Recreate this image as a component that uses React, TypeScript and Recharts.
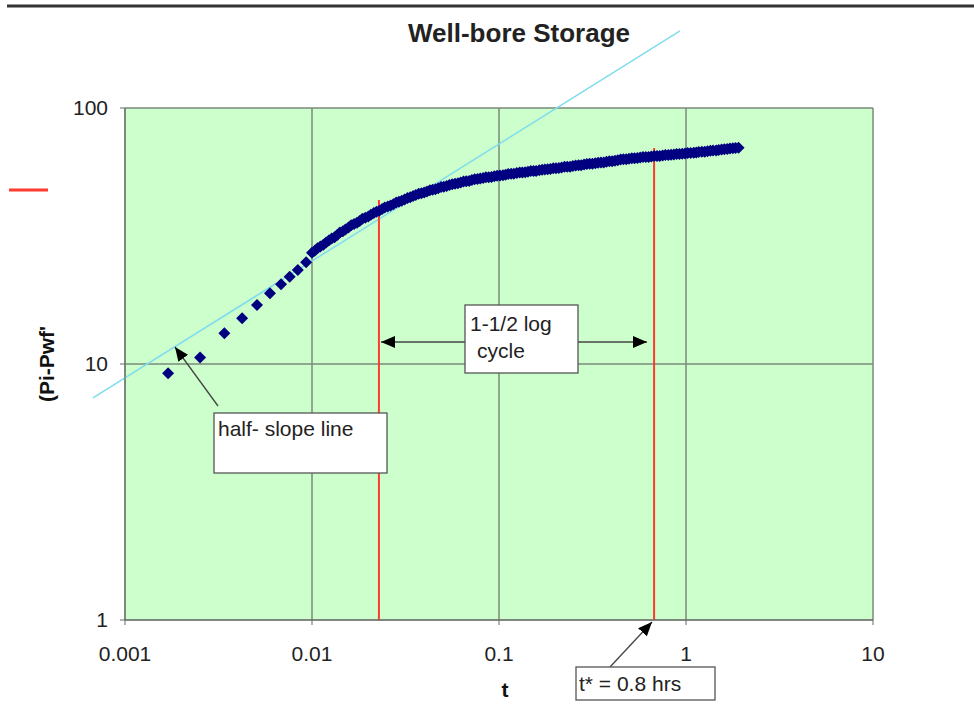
import { ScatterChart, Scatter, XAxis, YAxis, CartesianGrid, ReferenceLine } from 'recharts'

// t (hrs) and Pi-Pwf
const timeHrs = [
  0.0017, 0.00252, 0.0034, 0.00423, 0.00508, 0.00596, 0.00683, 0.0076, 0.0084, 0.0093,
  0.0100, 0.0107, 0.0115, 0.0123, 0.0132, 0.0141, 0.0151, 0.0162, 0.0174, 0.0186,
  0.0200, 0.0214, 0.0229, 0.0245, 0.0263, 0.0282, 0.0302, 0.0324, 0.0347, 0.0372,
  0.0398, 0.0427, 0.0457, 0.0490, 0.0525, 0.0562, 0.0603, 0.0646, 0.0692, 0.0741,
  0.0794, 0.0851, 0.0912, 0.0977, 0.105, 0.112, 0.120, 0.129, 0.138, 0.148,
  0.158, 0.170, 0.182, 0.195, 0.209, 0.224, 0.240, 0.257, 0.275, 0.295,
  0.316, 0.339, 0.363, 0.389, 0.417, 0.447, 0.479, 0.513, 0.550, 0.589,
  0.631, 0.676, 0.724, 0.776, 0.832, 0.891, 0.955, 1.02, 1.10, 1.17,
  1.26, 1.35, 1.45, 1.55, 1.66, 1.78, 1.91,
]

const pressureDrop = [
  9.2, 10.6, 13.2, 15.1, 17.0, 18.9, 20.5, 21.9, 23.3, 25.0,
  27.2, 28.3, 29.2, 30.4, 31.3, 32.6, 33.5, 34.8, 35.6, 36.9,
  37.7, 38.9, 39.7, 40.9, 41.6, 42.7, 43.4, 44.5, 45.3, 46.2,
  46.8, 47.7, 48.2, 49.1, 49.6, 50.4, 50.8, 51.6, 51.9, 52.7,
  53.0, 53.6, 53.8, 54.4, 54.6, 55.2, 55.4, 56.0, 56.1, 56.7,
  56.8, 57.4, 57.6, 58.1, 58.3, 58.9, 59.0, 59.6, 59.8, 60.4,
  60.6, 61.1, 61.3, 61.9, 62.2, 62.9, 63.1, 63.7, 63.8, 64.3,
  64.4, 64.9, 65.0, 65.5, 65.6, 66.1, 66.2, 66.7, 66.8, 67.3,
  67.5, 68.1, 68.3, 68.9, 69.1, 69.7, 70.0,
]

// more readings inside the dense part of the record
const denseTime = [
  0.01035, 0.01109, 0.01189, 0.01274, 0.01365, 0.01462, 0.01567, 0.01679, 0.01799, 0.01928,
  0.02065, 0.02213, 0.02371, 0.02541, 0.02723, 0.02917, 0.03126, 0.0335, 0.03589, 0.03846,
  0.04121, 0.04416, 0.04732, 0.0507, 0.05433, 0.05821, 0.06237, 0.06683, 0.07161, 0.07674,
  0.08222, 0.0881, 0.09441, 0.1012, 0.1084, 0.1161, 0.1245, 0.1334, 0.1429, 0.1531,
  0.1641, 0.1758, 0.1884, 0.2018, 0.2163, 0.2317, 0.2483, 0.2661, 0.2851, 0.3055,
  0.3273, 0.3508, 0.3758, 0.4027, 0.4315, 0.4624, 0.4955, 0.5309, 0.5689, 0.6095,
  0.6531, 0.6998, 0.7499, 0.8035, 0.861, 0.9226, 0.9886, 1.059, 1.135, 1.216,
  1.303, 1.396, 1.496, 1.603, 1.718, 1.841,
]

const denseDp = [
  27.7, 28.8, 29.8, 30.9, 31.9, 33.0, 34.1, 35.2, 36.2, 37.3,
  38.3, 39.3, 40.3, 41.2, 42.1, 43.0, 43.9, 44.8, 45.7, 46.4,
  47.2, 47.9, 48.6, 49.3, 50.0, 50.6, 51.2, 51.7, 52.3, 52.8,
  53.3, 53.7, 54.1, 54.5, 54.9, 55.3, 55.7, 56.0, 56.4, 56.7,
  57.1, 57.5, 57.8, 58.2, 58.6, 58.9, 59.3, 59.7, 60.1, 60.5,
  60.8, 61.2, 61.6, 62.0, 62.5, 63.0, 63.4, 63.7, 64.0, 64.3,
  64.6, 64.9, 65.2, 65.5, 65.8, 66.1, 66.4, 66.7, 67.0, 67.4,
  67.8, 68.2, 68.6, 69.0, 69.4, 69.8,
]

const xTicks = [0.001, 0.01, 0.1, 1, 10]
const yTicks = [1, 10, 100]

// half-slope line end points and the two red markers (t, Pi-Pwf)
const halfSlope = [
  { x: 0.000674, y: 7.37 },
  { x: 0.929, y: 200 },
]
const startLine = { t: 0.0228, top: 43.7 }
const endLine = { t: 0.675, top: 69.8 }

const points = [
  ...timeHrs.map((t, i) => ({ t, dp: pressureDrop[i] })),
  ...denseTime.map((t, i) => ({ t, dp: denseDp[i] })),
]

const font = '"Liberation Sans", Arial, sans-serif'

const Diamond = (props: any) => {
  const { cx, cy } = props
  const r = 6
  return (
    <polygon
      points={`${cx},${cy - r} ${cx + r},${cy} ${cx},${cy + r} ${cx - r},${cy}`}
      fill="#000080"
    />
  )
}

const Arrow = ({ x1, y1, x2, y2 }: { x1: number; y1: number; x2: number; y2: number }) => (
  <line x1={x1} y1={y1} x2={x2} y2={y2} stroke="#444" strokeWidth={1.3} markerEnd="url(#head)" />
)

export default function App() {
  return (
    <div style={{ position: 'absolute', left: 0, top: 0, width: 974, height: 716, background: '#fff' }}>
      <ScatterChart width={974} height={716} margin={{ top: 108, right: 101, bottom: 16, left: 10 }}>
        <CartesianGrid stroke="#7a8a7a" strokeWidth={1.5} fill="#ccffcc" fillOpacity={1} />
        <XAxis
          type="number"
          dataKey="t"
          scale="log"
          domain={[0.001, 10]}
          ticks={xTicks}
          allowDataOverflow
          height={80}
          tickSize={5}
          tickMargin={21}
          tickFormatter={(v) => String(v)}
          stroke="#666"
          tick={{ fill: '#222', fontSize: 21, fontFamily: font }}
          label={{
            value: 't',
            position: 'insideBottom',
            offset: 3,
            dx: 6,
            style: { fill: '#111', fontSize: 21, fontWeight: 'bold', fontFamily: font },
          }}
        />
        <YAxis
          type="number"
          dataKey="dp"
          scale="log"
          domain={[1, 100]}
          ticks={yTicks}
          allowDataOverflow
          width={115}
          tickSize={5}
          tickMargin={12}
          stroke="#666"
          tick={{ fill: '#222', fontSize: 21, fontFamily: font }}
          label={{
            value: "(Pi-Pwf'",
            angle: -90,
            position: 'insideLeft',
            offset: 37,
            style: { textAnchor: 'middle', fill: '#111', fontSize: 21, fontWeight: 'bold', fontFamily: font },
          }}
        />
        <Scatter data={points} shape={<Diamond />} isAnimationActive={false} />
        <ReferenceLine
          segment={halfSlope}
          stroke="#7fdcef"
          strokeWidth={1.5}
          ifOverflow="visible"
        />
        <ReferenceLine
          segment={[{ x: startLine.t, y: 1 }, { x: startLine.t, y: startLine.top }]}
          stroke="#ff3b30"
          strokeWidth={2}
        />
        <ReferenceLine
          segment={[{ x: endLine.t, y: 1 }, { x: endLine.t, y: endLine.top }]}
          stroke="#ff3b30"
          strokeWidth={2}
        />
      </ScatterChart>

      <svg
        width={974}
        height={716}
        style={{ position: 'absolute', left: 0, top: 0, pointerEvents: 'none', fontFamily: font }}
      >
        <defs>
          <marker id="head" markerWidth={14} markerHeight={12} refX={14} refY={6} orient="auto" markerUnits="userSpaceOnUse">
            <path d="M0,0 L14,6 L0,12 z" fill="#000" />
          </marker>
        </defs>
        <line x1={7} y1={6} x2={974} y2={6} stroke="#333" strokeWidth={3} />
        <line x1={9} y1={190} x2={48} y2={190} stroke="#ff3b30" strokeWidth={3} />
        <text x={519} y={42} textAnchor="middle" fontSize={26} fontWeight="bold" fill="#222">
          Well-bore Storage
        </text>

        <Arrow x1={218} y1={406} x2={175} y2={347} />
        <rect x={214} y={413} width={173} height={60} fill="#fff" stroke="#555" strokeWidth={1.3} />
        <text x={218} y={436} fontSize={21} fill="#222">half- slope line</text>

        <Arrow x1={465} y1={342} x2={381} y2={342} />
        <Arrow x1={578} y1={342} x2={647} y2={342} />
        <rect x={465} y={305} width={113} height={68} fill="#fff" stroke="#555" strokeWidth={1.3} />
        <text x={470} y={331} fontSize={21} fill="#222">1-1/2 log</text>
        <text x={477} y={358} fontSize={21} fill="#222">cycle</text>

        <Arrow x1={610} y1={667} x2={652} y2={622} />
        <rect x={576} y={667} width={139} height={33} fill="#fff" stroke="#555" strokeWidth={1.3} />
        <text x={579} y={691} fontSize={21} fill="#222">t* = 0.8 hrs</text>
      </svg>
    </div>
  )
}
